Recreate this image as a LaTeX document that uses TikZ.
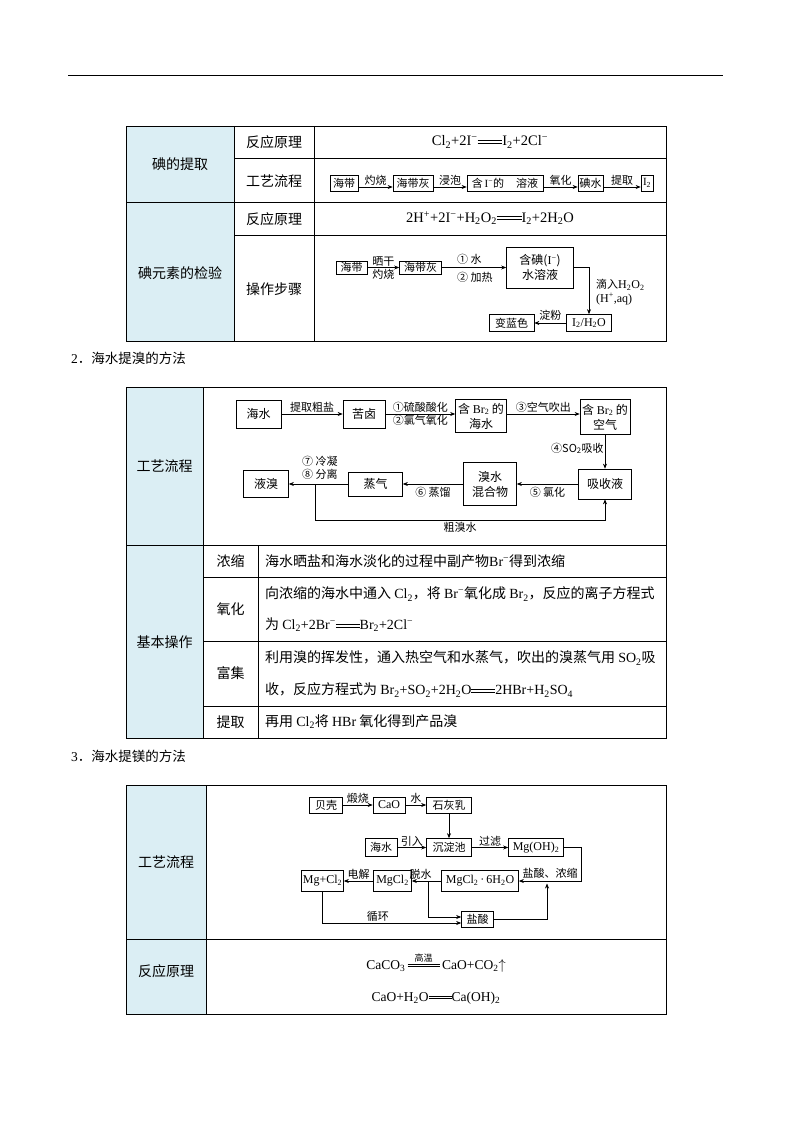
\documentclass[tikz,border=0pt]{standalone}
\usepackage{fontspec}
\setmainfont{Noto Sans CJK SC}
\newfontfamily\lat{Liberation Serif}
\usetikzlibrary{arrows.meta}
\definecolor{cellblue}{RGB}{219,238,244}
\newcommand{\chdn}[1]{\textsubscript{#1}}
\newcommand{\chup}[1]{\textsuperscript{#1}}
\newcommand{\deq}[1][1.7em]{\mbox{\rlap{\raisebox{0.36em}{\rule{#1}{0.06em}}}\raisebox{0.17em}{\rule{#1}{0.06em}}}}
\newcommand{\deqt}[2][2.4em]{\mbox{\rlap{\raisebox{0.62em}{\makebox[#1]{#2}}}\deq[#1]}}
\begin{document}
\begin{tikzpicture}[x=1pt, y=-1pt,
		tb/.style = {line width=0.8pt},
		hd/.style = {inner sep=0pt, font=\fontsize{14}{16}\selectfont},
		bx/.style = {draw, line width=0.7pt, inner sep=1pt, align=center, font=\fontsize{11}{13}\selectfont},
		bxl/.style = {bx, font=\fontsize{12}{15}\selectfont},
		bxt/.style = {bx, font=\fontsize{12}{14}\selectfont\lat},
		lb/.style = {inner sep=1pt, font=\fontsize{11}{13}\selectfont},
		ar/.style = {-{Stealth[length=5pt, width=4pt]}, line width=0.6pt},
		]
		
		%Page
		\fill[white] (0,0) rectangle (794,1123);
		\useasboundingbox (0,0) rectangle (794,1123);
		\draw[line width=0.9pt] (68,75) -- (723,75);
		\node[anchor=west, inner sep=0pt, font=\fontsize{13.5}{15}\selectfont]	(sec2)	at	(71,358)	{{\lat 2}．海水提溴的方法};
		\node[anchor=west, inner sep=0pt, font=\fontsize{13.5}{15}\selectfont]	(sec3)	at	(71,756)	{{\lat 3}．海水提镁的方法};
		
		%Table 1
		\fill[cellblue] (126,126) rectangle (234,341);
		\draw[tb] (126,126) rectangle (666,341);
		\draw[tb] (234,126) -- (234,341);
		\draw[tb] (314,126) -- (314,341);
		\draw[tb] (234,158) -- (666,158);
		\draw[tb] (126,202) -- (666,202);
		\draw[tb] (234,235) -- (666,235);
		
		\node[hd]	(tiqu)	at	(180,164)	{碘的提取};
		\node[hd]	(jianyan)	at	(180,273)	{碘元素的检验};
		\node[hd]	(yuanli1)	at	(274,142)	{反应原理};
		\node[hd]	(liucheng1)	at	(274,181)	{工艺流程};
		\node[hd]	(yuanli2)	at	(274,219)	{反应原理};
		\node[hd]	(buzhou)	at	(274,289)	{操作步骤};
		\node[hd, font=\fontsize{14.5}{16}\selectfont\lat]	(eqa)	at	(490,142)	{Cl\chdn{2}+2I\chup{−}\deq I\chdn{2}+2Cl\chup{−}};
		\node[hd, font=\fontsize{14.5}{16}\selectfont\lat]	(eqb)	at	(490,218)	{2H\chup{+}+2I\chup{−}+H\chdn{2}O\chdn{2}\deq I\chdn{2}+2H\chdn{2}O};
		
		%Nodes (extraction)
		\node[bx, minimum width=28, minimum height=16]	(haidai)	at	(344,183)	{海带};
		\node[bx, minimum width=40, minimum height=16]	(daihui)	at	(413,183)	{海带灰};
		\node[bx, minimum width=76, minimum height=16]	(jiye)	at	(505,183)	{含\,{\lat I}\chup{\lat −}的\hspace{12pt}溶液};
		\node[bx, minimum width=25, minimum height=16]	(dianshui)	at	(590.5,183)	{碘水};
		\node[bx, minimum width=12, minimum height=16, font=\fontsize{11}{13}\selectfont\lat]	(dian)	at	(647,183)	{I\chdn{2}};
		
		%Lines (extraction)
		\draw[ar]	([yshift=-4pt]haidai.east)	--	node[lb, above]	(zs)	{灼烧}	([yshift=-4pt]daihui.west);
		\draw[ar]	([yshift=-4pt]daihui.east)	--	node[lb, above]	(jp)	{浸泡}	([yshift=-4pt]jiye.west);
		\draw[ar]	([yshift=-4pt]jiye.east)	--	node[lb, above]	(yh)	{氧化}	([yshift=-4pt]dianshui.west);
		\draw[ar]	([yshift=-4pt]dianshui.east)	--	node[lb, above]	(tq)	{提取}	([yshift=-4pt]dian.west);
		
		%Nodes (test)
		\node[bx, minimum width=31, minimum height=13]	(sdai)	at	(351.5,267.5)	{海带};
		\node[bx, minimum width=42, minimum height=13]	(shui)	at	(420.5,267.5)	{海带灰};
		\node[bx, minimum width=67, minimum height=41, font=\fontsize{12}{15}\selectfont]	(sye)	at	(540,267.5)	{含碘({\lat I}\chup{\lat −})\\水溶液};
		\node[bxt, minimum width=45, minimum height=17]	(ssw)	at	(589,323)	{I\chdn{2}/H\chdn{2}O};
		\node[bx, minimum width=45, minimum height=17]	(slan)	at	(511.5,323)	{变蓝色};
		\node[lb, anchor=west]	(shui1)	at	(456,259)	{① 水};
		\node[lb, anchor=west]	(shui2)	at	(456,277)	{② 加热};
		\node[lb, anchor=west]	(diru1)	at	(595,285)	{滴入{\lat\fontsize{12}{13}\selectfont H\chdn{2}O\chdn{2}}};
		\node[lb, anchor=west, font=\fontsize{12}{13}\selectfont\lat]	(diru2)	at	(595,299)	{(H\chup{+},aq)};
		
		%Lines (test)
		\draw[ar]	(sdai)	--	node[lb, above]	(sg)	{晒干}	node[lb, below]	(zs2)	{灼烧}	(shui);
		\draw[ar]	(shui)	--	(sye);
		\draw[ar]	(sye.east)	-|	(ssw.north);
		\draw[ar]	(ssw)	--	node[lb, above, yshift=1pt]	(df)	{淀粉}	(slan);
		
		%Table 2
		\fill[cellblue] (126,387) rectangle (203,738);
		\draw[tb] (126,387) rectangle (666,738);
		\draw[tb] (203,387) -- (203,738);
		\draw[tb] (126,545) -- (666,545);
		\draw[tb] (258,545) -- (258,738);
		\draw[tb] (203,577) -- (666,577);
		\draw[tb] (203,641) -- (666,641);
		\draw[tb] (203,706) -- (666,706);
		
		\node[hd]	(liucheng2)	at	(164.5,466)	{工艺流程};
		\node[hd]	(jiben)	at	(164.5,642)	{基本操作};
		\node[hd]	(nongsuo)	at	(230.5,561)	{浓缩};
		\node[hd]	(yanghua)	at	(230.5,609)	{氧化};
		\node[hd]	(fuji)	at	(230.5,673)	{富集};
		\node[hd]	(tiqu2)	at	(230.5,722)	{提取};
		\node[hd, anchor=west]	(ta)	at	(265,561)	{海水晒盐和海水淡化的过程中副产物{\lat Br\chup{−}}得到浓缩};
		\node[hd, anchor=west]	(tb)	at	(265,594)	{向浓缩的海水中通入 {\lat Cl\chdn{2}}，将 {\lat Br\chup{−}}氧化成 {\lat Br\chdn{2}}，反应的离子方程式};
		\node[hd, anchor=west]	(tc)	at	(265,625)	{为 {\lat Cl\chdn{2}+2Br\chup{−}\deq Br\chdn{2}+2Cl\chup{−}}};
		\node[hd, anchor=west]	(td)	at	(265,658)	{利用溴的挥发性，通入热空气和水蒸气，吹出的溴蒸气用 {\lat SO\chdn{2}}吸};
		\node[hd, anchor=west]	(te)	at	(265,690)	{收，反应方程式为 {\lat Br\chdn{2}+SO\chdn{2}+2H\chdn{2}O\deq 2HBr+H\chdn{2}SO\chdn{4}}};
		\node[hd, anchor=west]	(tf)	at	(265,722)	{再用 {\lat Cl\chdn{2}}将 {\lat HBr} 氧化得到产品溴};
		
		%Nodes (bromine)
		\node[bxl, minimum width=45, minimum height=28]	(haishui)	at	(258.5,414)	{海水};
		\node[bxl, minimum width=42, minimum height=28]	(kulu)	at	(364,414)	{苦卤};
		\node[bxl, minimum width=51, minimum height=33]	(hsw)	at	(481,416)	{含 {\lat Br\chdn{2}} 的\\海水};
		\node[bxl, minimum width=50, minimum height=35]	(kqi)	at	(605,417)	{含 {\lat Br\chdn{2}} 的\\空气};
		\node[bxl, minimum width=53, minimum height=30]	(xsy)	at	(605,484)	{吸收液};
		\node[bxl, minimum width=53, minimum height=43]	(hhw)	at	(490,484)	{溴水\\混合物};
		\node[bxl, minimum width=54, minimum height=24]	(zq)	at	(375.5,484)	{蒸气};
		\node[bxl, minimum width=45, minimum height=27]	(yx)	at	(266,484)	{液溴};
		\node[lb, anchor=west]	(lnga)	at	(301,461)	{⑦ 冷凝};
		\node[lb, anchor=west]	(lngb)	at	(301,474)	{⑧ 分离};
		\coordinate	(ka)	at	(315,484);
		\coordinate	(kb)	at	(315,520);
		
		%Lines (bromine)
		\draw[ar]	(haishui)	--	node[lb, above]	(cy)	{提取粗盐}	(kulu);
		\draw[ar]	(kulu.east)	--	node[lb, above]	(ls)	{①硫酸酸化}	node[lb, below]	(lq)	{②氯气氧化}	(kulu.east -| hsw.west);
		\draw[ar]	(kulu.east -| hsw.east)	--	node[lb, above]	(kc)	{③空气吹出}	(kulu.east -| kqi.west);
		\draw[ar]	(kqi)	--	node[lb, left, pos=0.4]	(so)	{④SO\chdn{2}吸收}	(xsy);
		\draw[ar]	(xsy)	--	node[lb, below, yshift=-2pt]	(lh)	{⑤ 氯化}	(hhw);
		\draw[ar]	(hhw)	--	node[lb, below, yshift=-2pt]	(zl)	{⑥ 蒸馏}	(zq);
		\draw[ar]	(zq)	--	(yx);
		\draw[ar]	(ka)	--	(kb)	-|	node[lb, pos=0.25, below, yshift=-1pt]	(cxs)	{粗溴水}	(xsy.south);
		
		%Table 3
		\fill[cellblue] (126,785) rectangle (206,1014);
		\draw[tb] (126,785) rectangle (666,1014);
		\draw[tb] (206,785) -- (206,1014);
		\draw[tb] (126,939) -- (666,939);
		
		\node[hd]	(liucheng3)	at	(166,862)	{工艺流程};
		\node[hd]	(yuanli3)	at	(166,971)	{反应原理};
		\node[hd, font=\fontsize{13.5}{15}\selectfont\lat]	(eqc)	at	(436,963)	{CaCO\chdn{3}\,\deqt{\normalfont\fontsize{9}{9}\selectfont 高温}\,CaO+CO\chdn{2}$\uparrow$};
		\node[hd, font=\fontsize{13.5}{15}\selectfont\lat]	(eqd)	at	(436,998)	{CaO+H\chdn{2}O\deq Ca(OH)\chdn{2}};
		
		%Nodes (magnesium)
		\node[bx, minimum width=33, minimum height=16]	(beike)	at	(326,805)	{贝壳};
		\node[bxt, minimum width=32, minimum height=16]	(cao)	at	(389,805)	{CaO};
		\node[bx, minimum width=45, minimum height=16]	(shr)	at	(449,805)	{石灰乳};
		\node[bx, minimum width=32, minimum height=18]	(hs)	at	(381,847.5)	{海水};
		\node[bx, minimum width=45, minimum height=18]	(cdc)	at	(449,847.5)	{沉淀池};
		\node[bxt, minimum width=55, minimum height=18]	(mgoh)	at	(536,847.5)	{Mg(OH)\chdn{2}};
		\node[bxt, minimum width=77, minimum height=21]	(mgcl6)	at	(480,881)	{MgCl\chdn{2}\,·\,6H\chdn{2}O};
		\node[bxt, minimum width=38, minimum height=21]	(mgcl)	at	(392.5,881)	{MgCl\chdn{2}};
		\node[bxt, minimum width=42, minimum height=21]	(mgcl2)	at	(322.5,881)	{Mg+Cl\chdn{2}};
		\node[bx, minimum width=32, minimum height=16]	(yansuan)	at	(477.5,919.5)	{盐酸};
		\node[lb]	(ysns)	at	(550,873)	{盐酸、浓缩};
		\coordinate	(pa)	at	(428,881);
		\coordinate	(pb)	at	(547,883.5);
		
		%Lines (magnesium)
		\draw[ar]	(beike)	--	node[lb, above]	(ds)	{煅烧}	(cao);
		\draw[ar]	(cao)	--	node[lb, above]	(sh)	{水}	(shr);
		\draw[ar]	(shr)	--	(cdc);
		\draw[ar]	(hs)	--	node[lb, above]	(yr)	{引入}	(cdc);
		\draw[ar]	(cdc)	--	node[lb, above]	(gl)	{过滤}	(mgoh);
		\draw[ar]	(mgoh.east)	--	++(17,0)	|-	(mgcl6.east);
		\draw[ar]	(yansuan.east)	-|	(pb);
		\draw[ar]	(mgcl6)	--	node[lb, above, pos=0.7]	(ts)	{脱水}	(mgcl);
		\draw[ar]	(mgcl)	--	node[lb, above]	(dj)	{电解}	(mgcl2);
		\draw[ar]	(pa)	|-	([yshift=2.5pt]yansuan.west);
		\draw[ar]	(mgcl2.south)	|-	node[lb, pos=0.7, above]	(xh)	{循环}	([yshift=-3.5pt]yansuan.west);
	\end{tikzpicture}
\end{document}
